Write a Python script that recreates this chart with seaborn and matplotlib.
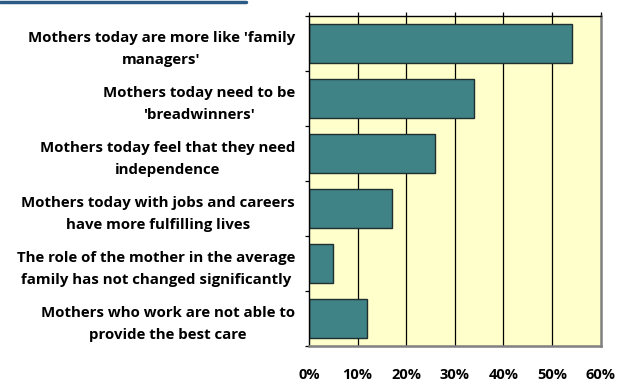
import matplotlib
matplotlib.use("Agg")
import matplotlib.pyplot as plt
from matplotlib.lines import Line2D
from matplotlib.ticker import PercentFormatter, FixedLocator
import seaborn as sns
import pandas as pd

categories = [
    "Mothers today are more like 'family\nmanagers'",
    "Mothers today need to be\n'breadwinners'",
    "Mothers today feel that they need\nindependence",
    "Mothers today with jobs and careers\nhave more fulfilling lives",
    "The role of the mother in the average\nfamily has not changed significantly",
    "Mothers who work are not able to\nprovide the best care",
]
shares = [0.54, 0.34, 0.26, 0.17, 0.05, 0.12]
tick_values = [0, 0.1, 0.2, 0.3, 0.4, 0.5, 0.6]

df = pd.DataFrame({"statement": categories, "share": shares})

sns.set_theme(style="white")
plt.rcParams["font.family"] = ["Open Sans", "DejaVu Sans"]

fig = plt.figure(figsize=(6.18, 3.81), dpi=100)
ax = fig.add_axes([309 / 618, 1 - 346 / 381, (600.7 - 309) / 618, (346 - 16) / 381])
ax.set_facecolor("#FFFFCC")

sns.barplot(data=df, x="share", y="statement", orient="h", ax=ax,
            color="#3F8386", saturation=1, width=0.7,
            edgecolor="#1f2f2f", linewidth=1.0, zorder=3)

ax.set_xlim(0, 0.6)
ax.set_ylim(len(categories) - 0.5, -0.5)
ax.set_xlabel("")
ax.set_ylabel("")

# vertical gridlines
for v in tick_values[1:-1]:
    ax.axvline(v, color="black", lw=0.9, zorder=1)

ax.xaxis.set_major_locator(FixedLocator(tick_values))
ax.xaxis.set_major_formatter(PercentFormatter(1.0, decimals=0))
ax.tick_params(axis="x", top=True, bottom=False, labeltop=False, labelbottom=True,
               direction="out", length=3, width=0.9, color="black", pad=13,
               labelsize=10.5, labelcolor="black")
for lab in ax.get_xticklabels():
    lab.set_fontweight("bold")

# category labels, centred line by line
ax.set_yticks(range(len(categories)), labels=categories,
              ma="center", linespacing=1.72, fontweight="bold",
              fontsize=10.8, color="black")
ax.tick_params(axis="y", which="major", length=0, pad=10)

# category separators on the left axis
ax.yaxis.set_minor_locator(FixedLocator([i - 0.5 for i in range(len(categories) + 1)]))
ax.tick_params(axis="y", which="minor", left=True, length=3, width=0.9,
               color="black", direction="out")

for side in ["top", "left"]:
    ax.spines[side].set_color("black")
    ax.spines[side].set_linewidth(1.0)
for side in ["right", "bottom"]:
    ax.spines[side].set_color("#808080")
    ax.spines[side].set_linewidth(1.8)
for s in ax.spines.values():
    s.set_zorder(4)

# heading rule across the top
fig.add_artist(Line2D([0, 246 / 618], [1 - 1.5 / 381] * 2,
                      color="#2B5B84", lw=2.5, transform=fig.transFigure))

fig.savefig("out.png", dpi=100)
